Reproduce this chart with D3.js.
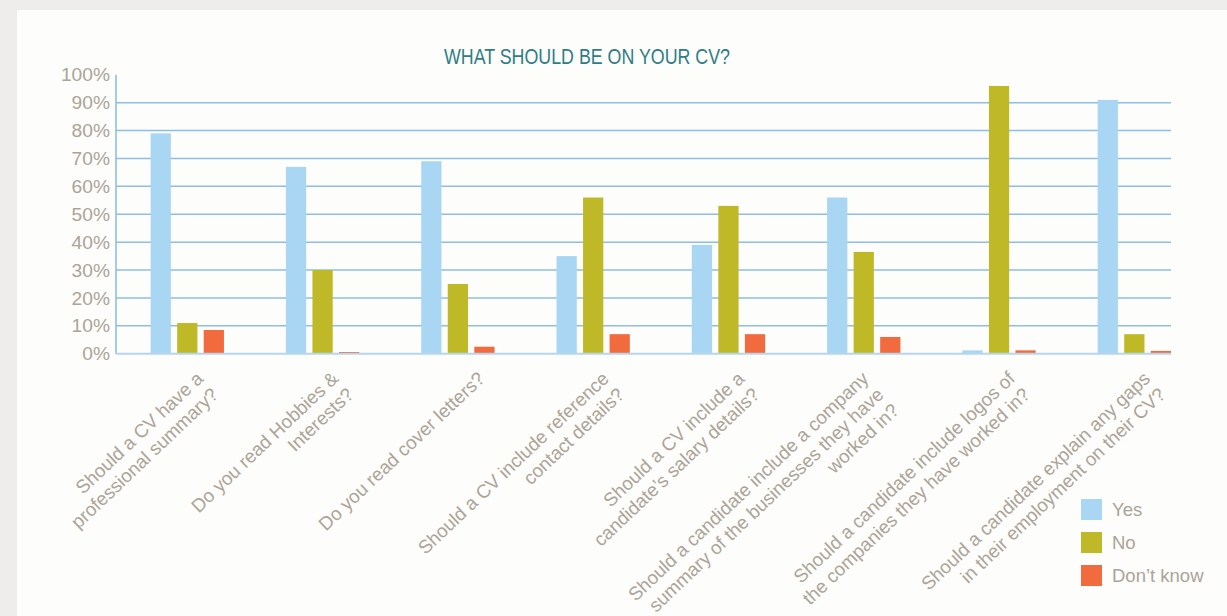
<!DOCTYPE html>
<html>
<head>
<meta charset="utf-8">
<script src="https://cdn.jsdelivr.net/npm/d3@7"></script>
<style>
  html, body { margin: 0; padding: 0; background: #eeedeb; }
  svg { display: block; }
</style>
</head>
<body>
<svg id="chart" width="1227" height="616"></svg>
<script>
// Survey questions (each entry holds the wrapped lines of its axis label)
const questions = [
  ["Should a CV have a", "professional summary?"],
  ["Do you read Hobbies &", "Interests?"],
  ["Do you read cover letters?"],
  ["Should a CV include reference", "contact details?"],
  ["Should a CV include a", "candidate\u2019s salary details?"],
  ["Should a candidate include a company", "summary of the businesses they have", "worked in?"],
  ["Should a candidate include logos of", "the companies they have worked in?"],
  ["Should a candidate explain any gaps", "in their employment on their CV?"]
];

const seriesNames = ["Yes", "No", "Don\u2019t know"];

// Share of respondents (%) per question
const yesValues      = [79, 67, 69, 35, 39, 56, 1.2, 91];
const noValues       = [11, 30, 25, 56, 53, 36.5, 96, 7];
const dontKnowValues = [8.5, 0.6, 2.5, 7, 7, 6, 1.2, 1];

const yTicks = [0, 10, 20, 30, 40, 50, 60, 70, 80, 90, 100];

const seriesColors = ["#a9d7f3", "#c0b927", "#f26b3e"];
const textGray = "#aca498";
const gridBlue = "#8fbee1";

const seriesValues = [yesValues, noValues, dontKnowValues];
const questionKeys = questions.map((q, i) => "q" + i);

const rows = questionKeys.map((k, i) => ({
  key: k,
  lines: questions[i],
  values: seriesNames.map((s, j) => ({ series: s, idx: j, value: seriesValues[j][i] }))
}));

const svg = d3.select("#chart");

// white panel
svg.append("rect")
  .attr("x", 17).attr("y", 10)
  .attr("width", 1210).attr("height", 606)
  .attr("fill", "#fdfdfb");

const plot = { left: 116, right: 1171, top: 74.8, bottom: 353.7 };

const y = d3.scaleLinear().domain([0, 100]).range([plot.bottom, plot.top]);

const x = d3.scaleBand()
  .domain(questionKeys)
  .range([plot.left, plot.right])
  .paddingInner(0.458)
  .paddingOuter(0.128)
  .align(1);

const xInner = d3.scaleBand()
  .domain(seriesNames)
  .range([0, x.bandwidth()])
  .paddingInner(0.237);

// title (condensed face)
svg.append("text")
  .attr("x", 444).attr("y", 64)
  .attr("textLength", 286)
  .attr("lengthAdjust", "spacingAndGlyphs")
  .attr("font-family", "'Liberation Sans', Arial, sans-serif")
  .attr("font-size", 21.6)
  .attr("fill", "#2f7e86")
  .text("WHAT SHOULD BE ON YOUR CV?");

// horizontal gridlines
svg.append("g")
  .selectAll("line")
  .data(yTicks.filter(t => t > 0 && t < 100))
  .join("line")
  .attr("x1", plot.left).attr("x2", plot.right)
  .attr("y1", d => y(d)).attr("y2", d => y(d))
  .attr("stroke", gridBlue)
  .attr("stroke-width", 1.5);

// y axis
const yAxis = d3.axisLeft(y)
  .tickValues(yTicks)
  .tickFormat(d => d + "%")
  .tickSize(0)
  .tickPadding(6);

const yAxisG = svg.append("g")
  .attr("transform", `translate(${plot.left},0)`)
  .call(yAxis);
yAxisG.select(".domain").remove();
yAxisG.selectAll("text")
  .attr("font-family", "'Liberation Sans', Arial, sans-serif")
  .attr("font-size", 19.2)
  .attr("fill", textGray);

svg.append("line")
  .attr("x1", plot.left).attr("x2", plot.left)
  .attr("y1", y(100)).attr("y2", y(0))
  .attr("stroke", gridBlue)
  .attr("stroke-width", 1.6);

// bars
svg.append("g")
  .selectAll("g")
  .data(rows)
  .join("g")
  .attr("transform", d => `translate(${x(d.key)},0)`)
  .selectAll("rect")
  .data(d => d.values)
  .join("rect")
  .attr("x", d => xInner(d.series))
  .attr("width", xInner.bandwidth())
  .attr("y", d => y(d.value))
  .attr("height", d => y(0) - y(d.value))
  .attr("fill", d => seriesColors[d.idx]);

// baseline
svg.append("line")
  .attr("x1", plot.left).attr("x2", plot.right)
  .attr("y1", y(0)).attr("y2", y(0))
  .attr("stroke", "#b6d6ed")
  .attr("stroke-width", 2);

// rotated category labels
const angle = -43.5;
const lineHeight = 22;
const labels = svg.append("g")
  .selectAll("text")
  .data(rows)
  .join("text")
  .attr("transform", d => {
    const cx = x(d.key) + x.bandwidth() / 2;
    const ax = cx + 28 - (d.lines.length - 1) * 11;
    return `translate(${ax},380) rotate(${angle})`;
  })
  .attr("text-anchor", "end")
  .attr("font-family", "'Liberation Sans', Arial, sans-serif")
  .attr("font-size", 18.8)
  .attr("fill", textGray);

labels.selectAll("tspan")
  .data(d => d.lines)
  .join("tspan")
  .attr("x", 0)
  .attr("y", (d, i) => i * lineHeight)
  .text(d => d);

// legend
const legend = svg.append("g")
  .attr("transform", "translate(1081,499)")
  .selectAll("g")
  .data(seriesNames)
  .join("g")
  .attr("transform", (d, i) => `translate(0,${i * 33})`);

legend.append("rect")
  .attr("width", 21).attr("height", 21)
  .attr("fill", (d, i) => seriesColors[i]);

legend.append("text")
  .attr("x", 31).attr("y", 17)
  .attr("font-family", "'Liberation Sans', Arial, sans-serif")
  .attr("font-size", 18.5)
  .attr("fill", textGray)
  .text(d => d);
</script>
</body>
</html>
